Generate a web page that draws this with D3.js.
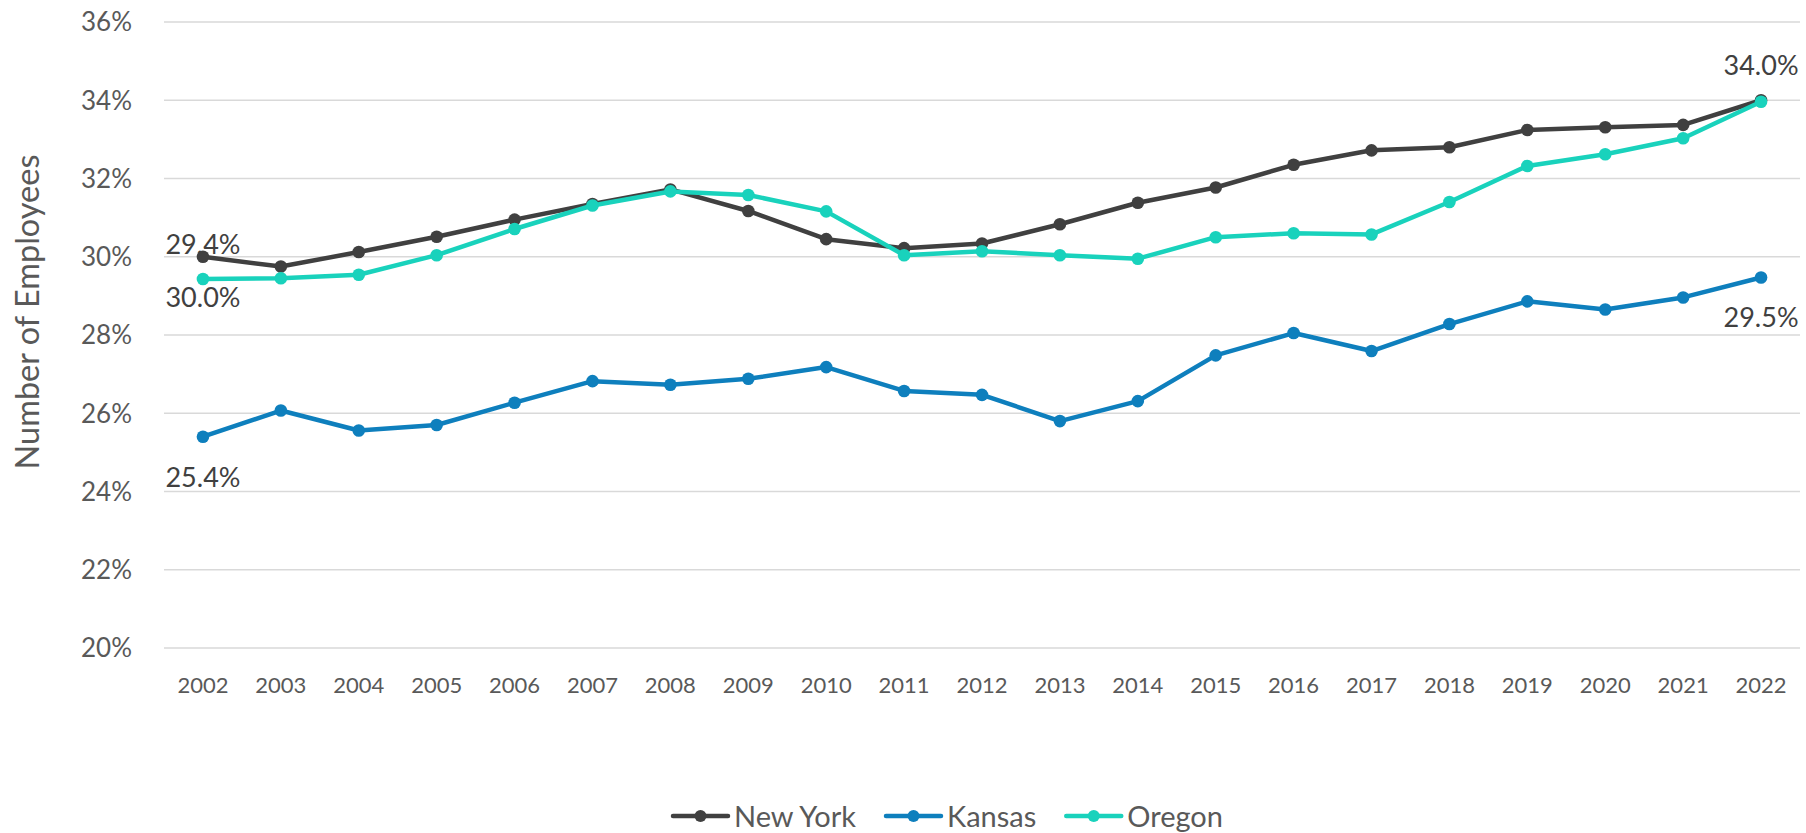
<!DOCTYPE html>
<html>
<head>
  <meta charset="utf-8">
  <script src="https://d3js.org/d3.v7.min.js"></script>
  <style>
    body { margin: 0; background: #fff; }
    text { font-family: Lato, "Open Sans", sans-serif; }
  </style>
</head>
<body>
  <div id="chart"></div>
  <script>
    // chart data
    var years = ["2002","2003","2004","2005","2006","2007","2008","2009","2010","2011","2012",
                 "2013","2014","2015","2016","2017","2018","2019","2020","2021","2022"];
    var newYork = [30.0, 29.75, 30.12, 30.51, 30.95, 31.35, 31.72, 31.17, 30.45, 30.22, 30.34,
                   30.83, 31.38, 31.77, 32.35, 32.72, 32.8, 33.24, 33.31, 33.37, 34.0];
    var kansas = [25.4, 26.07, 25.56, 25.7, 26.27, 26.82, 26.73, 26.88, 27.18, 26.57, 26.47,
                  25.8, 26.31, 27.48, 28.05, 27.59, 28.28, 28.86, 28.65, 28.96, 29.47];
    var oregon = [29.43, 29.45, 29.54, 30.04, 30.71, 31.31, 31.67, 31.58, 31.16, 30.04, 30.14,
                  30.04, 29.95, 30.5, 30.6, 30.57, 31.4, 32.32, 32.62, 33.03, 33.96];
    var yTicks = [20, 22, 24, 26, 28, 30, 32, 34, 36];

    var series = [
      { name: "New York", values: newYork, color: "#404040" },
      { name: "Kansas", values: kansas, color: "#0e7fbd" },
      { name: "Oregon", values: oregon, color: "#19d2bc" }
    ];

    // which point gets a data label, and whether it sits above or below
    var labels = [
      { series: "Oregon", year: "2002", pos: "above" },
      { series: "New York", year: "2002", pos: "below" },
      { series: "Kansas", year: "2002", pos: "below" },
      { series: "New York", year: "2022", pos: "above" },
      { series: "Kansas", year: "2022", pos: "below" }
    ];

    var width = 1806, height = 833;
    var plot = { left: 164, right: 1800, top: 22, bottom: 648 };

    var svg = d3.select("#chart").append("svg")
      .attr("width", width)
      .attr("height", height);

    var x = d3.scaleBand().domain(years).range([plot.left, plot.right]);
    var y = d3.scaleLinear().domain([20, 36]).range([plot.bottom, plot.top]);
    var cx = function(yr) { return x(yr) + x.bandwidth() / 2; };

    // gridlines
    svg.append("g").selectAll("line")
      .data(yTicks)
      .join("line")
      .attr("x1", plot.left).attr("x2", plot.right)
      .attr("y1", d => y(d)).attr("y2", d => y(d))
      .attr("stroke", "#d9d9d9")
      .attr("stroke-width", 1.5);

    // y tick labels
    svg.append("g").selectAll("text")
      .data(yTicks)
      .join("text")
      .attr("x", 132)
      .attr("y", d => y(d))
      .attr("dy", "0.36em")
      .attr("text-anchor", "end")
      .attr("fill", "#595959")
      .style("font-size", "26px")
      .text(d => d + "%");

    // x tick labels
    svg.append("g").selectAll("text")
      .data(years)
      .join("text")
      .attr("x", d => cx(d))
      .attr("y", 693)
      .attr("text-anchor", "middle")
      .attr("fill", "#595959")
      .style("font-size", "22px")
      .text(d => d);

    // y axis title
    svg.append("text")
      .attr("transform", "translate(39,312) rotate(-90)")
      .attr("text-anchor", "middle")
      .attr("fill", "#595959")
      .style("font-size", "32.5px")
      .text("Number of Employees");

    var line = d3.line()
      .x((d, i) => cx(years[i]))
      .y(d => y(d));

    series.forEach(function(s) {
      var g = svg.append("g");
      g.append("path")
        .attr("d", line(s.values))
        .attr("fill", "none")
        .attr("stroke", s.color)
        .attr("stroke-width", 4.5)
        .attr("stroke-linejoin", "round");
      g.selectAll("circle")
        .data(s.values)
        .join("circle")
        .attr("cx", (d, i) => cx(years[i]))
        .attr("cy", d => y(d))
        .attr("r", 6.3)
        .attr("fill", s.color);
    });

    // data labels
    labels.forEach(function(l) {
      var s = series.find(d => d.name == l.series);
      var v = s.values[years.indexOf(l.year)];
      svg.append("text")
        .attr("x", cx(l.year))
        .attr("y", y(v) + (l.pos == "above" ? -25 : 50))
        .attr("text-anchor", "middle")
        .attr("fill", "#404040")
        .style("font-size", "27px")
        .text(v.toFixed(1) + "%");
    });

    // legend (the reference clips the descenders at the bottom edge too)
    var legend = svg.append("g").attr("transform", "translate(673,816)");
    var lx = 0;
    series.forEach(function(s) {
      var item = legend.append("g").attr("transform", "translate(" + lx + ",0)");
      item.append("line")
        .attr("x1", 0).attr("x2", 55)
        .attr("stroke", s.color)
        .attr("stroke-width", 4.5)
        .attr("stroke-linecap", "round");
      item.append("circle")
        .attr("cx", 27.5).attr("r", 6)
        .attr("fill", s.color);
      var t = item.append("text")
        .attr("x", 61)
        .attr("y", 10.5)
        .attr("fill", "#595959")
        .style("font-size", "29px")
        .text(s.name);
      lx += 61 + t.node().getComputedTextLength() + 30;
    });
  </script>
</body>
</html>
